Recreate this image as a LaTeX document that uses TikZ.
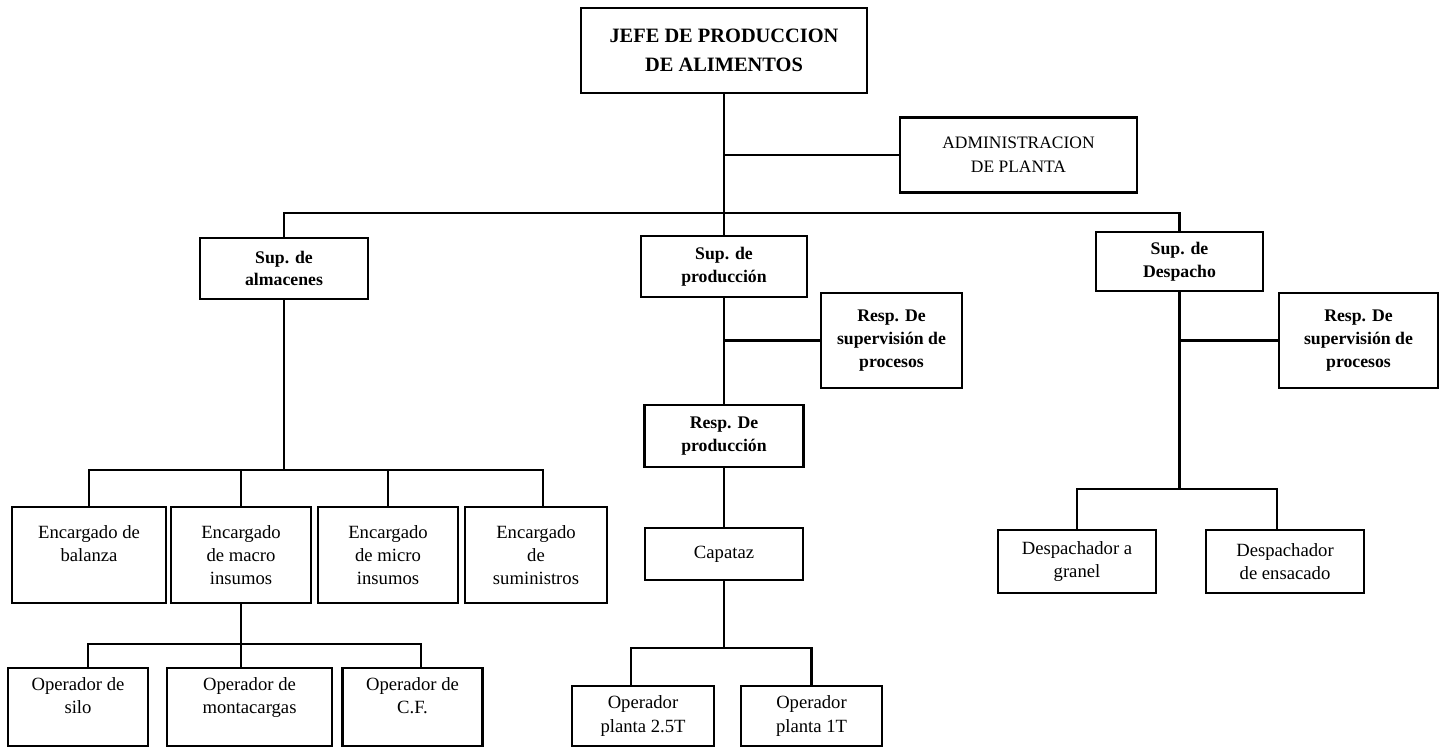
\documentclass[tikz,border=0pt]{standalone}
\usepackage{fontspec}
\setmainfont{Liberation Serif}
\begin{document}
\begin{tikzpicture}[x=0.75pt,y=-0.75pt,
    caja/.style 2 args={draw,line width=1.7pt,minimum width=#1*0.75pt,minimum height=#2*0.75pt,
        align=center,inner sep=1pt,font=\fontsize{14}{17.5}\selectfont},
    jefe/.style={font=\fontsize{15.3}{21.5}\selectfont\bfseries},
    sup/.style={font=\fontsize{13.3}{17}\selectfont\bfseries},
    linea/.style={line width=1.7pt}]
    \useasboundingbox (0,0) rectangle (1445,749);
    % cabeza
    \node[caja={286}{85},jefe] (jefe) at (724,50.5) {JEFE DE PRODUCCION\\DE ALIMENTOS};
    \node[caja={237}{75},font=\fontsize{13.1}{18}\selectfont] (admin) at (1018.5,155) {ADMINISTRACION\\DE PLANTA};
    % almacenes
    \node[caja={168}{61},sup] (supA) at (284,268.5) {Sup. de\\almacenes};
    \node[caja={154}{96}] (encB) at (89,555) {Encargado de\\balanza\\\mbox{}};
    \node[caja={140}{96}] (encMa) at (241,555) {Encargado\\de macro\\insumos};
    \node[caja={140}{96}] (encMi) at (388,555) {Encargado\\de micro\\insumos};
    \node[caja={142}{96}] (encS) at (536,555) {Encargado\\de\\suministros};
    \node[caja={140}{78}] (opS) at (78,707) {Operador de\\silo\\\mbox{}};
    \node[caja={165}{78}] (opM) at (249.5,707) {Operador de\\montacargas\\\mbox{}};
    \node[caja={140}{78}] (opC) at (412.5,707) {Operador de\\C.F.\\\mbox{}};
    % produccion
    \node[caja={166}{61},sup] (supP) at (724,266.5) {Sup. de\\producción};
    \node[caja={141}{95},sup] (respP) at (891.5,340.5) {Resp. De\\supervisión de\\procesos};
    \node[caja={159}{62},sup] (respProd) at (724,436) {Resp. De\\producción};
    \node[caja={158}{52}] (capataz) at (724,554) {Capataz};
    \node[caja={142}{60}] (op25) at (643,716) {Operador\\planta 2.5T};
    \node[caja={141}{60}] (op1T) at (811.5,716) {Operador\\planta 1T};
    % despacho
    \node[caja={167}{59},sup] (supD) at (1179.5,261.5) {Sup. de\\Despacho};
    \node[caja={159}{95},sup] (respD) at (1358.5,340.5) {Resp. De\\supervisión de\\procesos};
    \node[caja={158}{63}] (despG) at (1077,561.5) {Despachador a\\granel};
    \node[caja={158}{63}] (despE) at (1285,561.5) {Despachador\\de ensacado};
    % lineas
    \coordinate (b0) at (jefe.south |- 0,213);
    \draw[linea] (jefe.south) -- (b0);
    \draw[linea] (jefe.south |- admin.west) -- (admin.west);
    \draw[linea] (supA.north) |- (b0) -| (supD.north);
    \draw[linea] (supP.north) -- (supP.north |- b0);
    % almacenes
    \coordinate (a0) at (supA.south |- 0,470);
    \draw[linea] (supA.south) -- (a0);
    \draw[linea] (encB.north) |- (a0) -| ([xshift=5pt]encS.north);
    \draw[linea] (encMa.north) -- (encMa.north |- a0);
    \draw[linea] (encMi.north) -- (encMi.north |- a0);
    \coordinate (m0) at (encMa.south |- 0,644);
    \draw[linea] (encMa.south) -- (m0);
    \draw[linea] ([xshift=7.5pt]opS.north) |- (m0) -| ([xshift=6.4pt]opC.north);
    \draw[linea] ([xshift=-6.4pt]opM.north) -- ([xshift=-6.4pt]opM.north |- m0);
    % produccion
    \draw[linea] (supP.south) -- (respProd.north);
    \draw[linea] (supP.south |- respP.west) -- (respP.west);
    \draw[linea] (respProd.south) -- (capataz.north);
    \coordinate (c0) at (capataz.south |- 0,648);
    \draw[linea] (capataz.south) -- (c0);
    \draw[linea] ([xshift=-9pt]op25.north) |- (c0) -| (op1T.north);
    % despacho
    \coordinate (d0) at (supD.south |- 0,489);
    \draw[linea] (supD.south) -- (d0);
    \draw[linea] (supD.south |- respD.west) -- (respD.west);
    \draw[linea] (despG.north) |- (d0) -| ([xshift=-6pt]despE.north);
\end{tikzpicture}
\end{document}
